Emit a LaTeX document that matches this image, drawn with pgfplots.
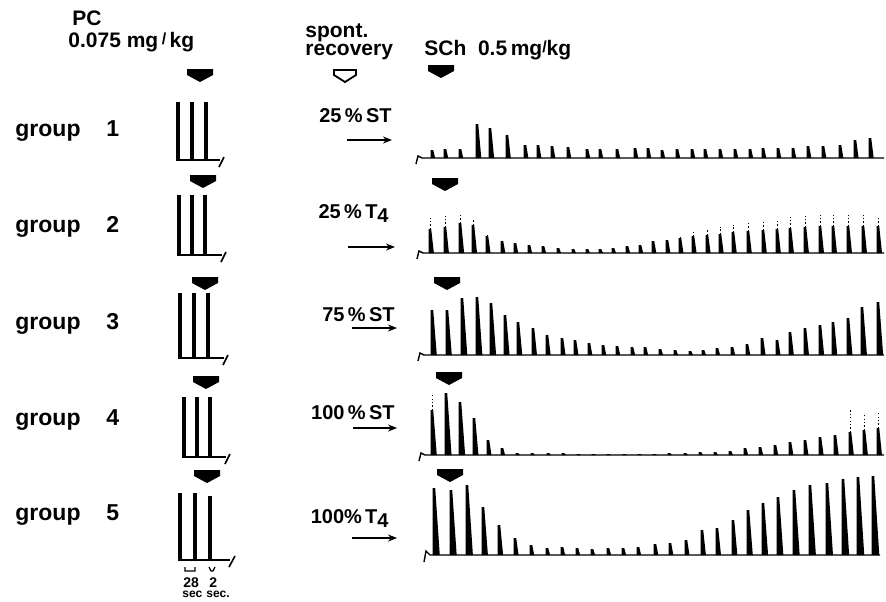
\documentclass[border=0pt]{standalone}
\usepackage{pgfplots}
\usepackage{pgfplotstable}
\pgfplotsset{compat=1.18}
\usepackage{fontspec}
\setmainfont{Liberation Sans}
\usetikzlibrary{arrows.meta}

% one twitch: steep rise, tail decaying to the right (1 data unit = 0.5pt)
\pgfdeclareplotmark{twitch}{%
  \pgfpathmoveto{\pgfpoint{-0.7pt}{0pt}}%
  \pgfpathlineto{\pgfpoint{-0.7pt}{0.5pt*\hv}}%
  \pgfpathlineto{\pgfpoint{0.6pt}{0.5pt*\hv}}%
  \pgfpathlineto{\pgfpoint{1.4pt+0.022pt*\hv}{0pt}}%
  \pgfpathclose\pgfusepathqfill}
% same, with a faint dotted fast peak above
\pgfdeclareplotmark{twitchd}{%
  \pgfuseplotmark{twitch}%
  \begin{pgfscope}%
  \pgfsetlinewidth{0.5pt}\pgfsetdash{{0.6pt}{1.1pt}}{0pt}%
  \pgfpathmoveto{\pgfpoint{0pt}{0.5pt*\hv}}%
  \pgfpathlineto{\pgfpoint{0pt}{0.5pt*\tv}}%
  \pgfusepathqstroke
  \end{pgfscope}}
% control twitches on the slow time base
\pgfdeclareplotmark{lbar}{%
  \pgfpathrectangle{\pgfpoint{-1pt}{0pt}}{\pgfpoint{2pt}{0.5pt*\hv}}\pgfusepathqfill}

\pgfplotsset{
  tw/.style={scatter, only marks, mark=twitch,
    scatter/use mapped color={draw=black, fill=black},
    visualization depends on={\thisrow{h}\as\hv}},
  twd/.style={tw, mark=twitchd,
    visualization depends on={\thisrow{t}\as\tv}},
  lb/.style={tw, mark=lbar},
  base/.style={black, line width=0.7pt},
}

% SCh responses, x = position, h = height of twitch (t = faint peak)
\pgfplotstableread[row sep=\\]{
x h\\ 432 8\\ 445 9\\ 460 9\\ 477 34\\ 490 30\\ 507 23\\ 525 13\\ 538 13\\
552 12\\ 568 11\\ 587 9\\ 600 9\\ 617 9\\ 635 10\\ 648 10\\ 662 8\\ 677 9\\
692 9\\ 705 9\\ 720 9\\ 735 9\\ 750 9\\ 763 10\\ 778 10\\ 793 10\\ 808 12\\
823 12\\ 840 13\\ 855 18\\ 870 20\\
}\gone
\pgfplotstableread[row sep=\\]{
x h t\\ 430 24 35\\ 445 26 37\\ 460 30 40\\ 473 28 33\\ 487 17 20\\ 502 12 12\\
515 10 10\\ 529 8 8\\ 543 7 7\\ 558 5 5\\ 573 4 4\\ 587 4 4\\ 600 4 4\\ 613 5 5\\
627 7 7\\ 640 8 8\\ 653 12 12\\ 667 13 13\\ 680 15 18\\ 693 17 21\\ 707 18 23\\
720 19 26\\ 733 21 28\\ 748 22 30\\ 763 23 33\\ 777 24 34\\ 790 25 37\\ 805 26 38\\
820 27 39\\ 833 27 40\\ 848 27 40\\ 863 27 38\\ 878 27 36\\
}\gtwo
\pgfplotstableread[row sep=\\]{
x h\\ 432 45\\ 447 45\\ 462 57\\ 477 58\\ 491 52\\ 505 40\\ 518 33\\ 533 27\\
547 20\\ 562 17\\ 575 15\\ 589 12\\ 603 10\\ 617 9\\ 632 8\\ 645 8\\ 660 6\\
675 5\\ 690 4\\ 703 5\\ 717 7\\ 732 8\\ 747 11\\ 762 17\\ 777 15\\ 790 23\\
805 27\\ 820 30\\ 833 33\\ 848 37\\ 862 48\\ 878 53\\
}\gthree
\pgfplotstableread[row sep=\\]{
x h t\\ 432 45 62\\ 446 62 62\\ 460 53 53\\ 474 37 37\\ 488 15 15\\ 502 7 7\\
517 2 2\\ 532 2 2\\ 548 2 2\\ 563 2 2\\ 578 1 1\\ 593 1 1\\ 608 1 1\\ 624 1 1\\
639 1 1\\ 654 1 1\\ 669 2 2\\ 685 2 2\\ 700 3 3\\ 715 3 3\\ 730 4 4\\ 745 7 7\\
760 8 8\\ 775 10 10\\ 790 13 13\\ 805 15 15\\ 820 18 18\\ 835 20 20\\
850 23 45\\ 864 25 42\\ 878 27 42\\
}\gfour
\pgfplotstableread[row sep=\\]{
x h\\ 434 67\\ 451 65\\ 467 70\\ 483 48\\ 499 30\\ 515 17\\ 531 10\\ 547 7\\
562 8\\ 577 7\\ 592 6\\ 608 7\\ 623 7\\ 638 8\\ 655 11\\ 670 12\\ 686 15\\
702 25\\ 717 27\\ 733 35\\ 748 45\\ 763 52\\ 778 58\\ 794 65\\ 810 70\\
827 72\\ 843 76\\ 858 78\\ 873 79\\
}\gfive
% control responses (left)
\pgfplotstableread[row sep=\\]{x h\\ 178 58\\ 192 58\\ 206 58\\}\lone
\pgfplotstableread[row sep=\\]{x h\\ 179 60\\ 192 60\\ 205 60\\}\ltwo
\pgfplotstableread[row sep=\\]{x h\\ 180 65\\ 194 65\\ 208 65\\}\lthree
\pgfplotstableread[row sep=\\]{x h\\ 184 60\\ 197 60\\ 210 60\\}\lfour
\pgfplotstableread[row sep=\\]{x h\\ 180 67\\ 195 67\\ 210 64\\}\lfive

\newcommand\darr[2]{\fill[shift={(axis cs:#1,#2)}] (-6.5pt,0pt) -- (6.5pt,0pt) -- (6.5pt,-3pt) -- (0pt,-6.5pt) -- (-6.5pt,-3pt) -- cycle;}
\newcommand\grp[2]{%
  \node[anchor=base west, font=\fontsize{11.5}{13}\bfseries, inner sep=0pt] at (axis cs:15,#1) {group};
  \node[anchor=base west, font=\fontsize{11.5}{13}\bfseries, inner sep=0pt] at (axis cs:106,#1) {#2};}
\newcommand\lvl[3]{%
  \node[anchor=base east, font=\fontsize{10}{12}\bfseries, inner sep=0pt] at (axis cs:#1,#2) {#3};}
\newcommand\rarr[3]{\draw[-{Stealth[length=4.5pt,width=3.5pt]}, line width=0.8pt] (axis cs:#1,#3) -- (axis cs:#2,#3);}
\newcommand\perslash{{\fontsize{8}{9}\selectfont\raisebox{0.35ex}{/}}}

\begin{document}
\begin{tikzpicture}
\begin{axis}[
    scale only axis, width=443pt, height=300.5pt,
    xmin=0, xmax=886, ymin=0, ymax=601, y dir=reverse,
    hide axis, clip=false, enlargelimits=false,
]
\path (axis cs:0,0) rectangle (axis cs:886,601);

% control twitches (left)
\addplot[lb] table[x=x, y expr=160] {\lone};
\addplot[lb] table[x=x, y expr=255] {\ltwo};
\addplot[lb] table[x=x, y expr=358] {\lthree};
\addplot[lb] table[x=x, y expr=457] {\lfour};
\addplot[lb] table[x=x, y expr=560] {\lfive};
\addplot[base] coordinates {(176,160) (220,160)};
\addplot[base] coordinates {(177,255) (222,255)};
\addplot[base] coordinates {(178,358) (224,358)};
\addplot[base] coordinates {(182,457) (226,457)};
\addplot[base] coordinates {(178,560) (230,560)};

% SCh responses (right)
\addplot[base] coordinates {(416,164) (418,156) (422,158) (884,158)};
\addplot[base] coordinates {(417,259) (419,251) (423,253) (884,253)};
\addplot[base] coordinates {(418,361) (420,353) (424,355) (884,355)};
\addplot[base] coordinates {(419,461) (421,453) (425,455) (884,455)};
\addplot[base] coordinates {(424,562) (426,551) (430,555) (880,555)};
\addplot[tw]  table[x=x, y expr=158] {\gone};
\addplot[twd] table[x=x, y expr=253] {\gtwo};
\addplot[tw]  table[x=x, y expr=355] {\gthree};
\addplot[twd] table[x=x, y expr=455] {\gfour};
\addplot[tw]  table[x=x, y expr=555] {\gfive};

% end ticks of the slow traces
\draw[line width=0.8pt]
  (axis cs:219,167) -- (axis cs:224,157)
  (axis cs:221,262) -- (axis cs:226,252)
  (axis cs:223,365) -- (axis cs:228,355)
  (axis cs:225,464) -- (axis cs:230,454)
  (axis cs:229,567) -- (axis cs:235,556);

% headings
\node[anchor=base west, font=\fontsize{10.5}{12}\bfseries, inner sep=0pt] at (axis cs:72,25) {PC};
\node[anchor=base west, font=\fontsize{10.5}{12}\bfseries, inner sep=0pt] at (axis cs:68,47) {0.075 mg\,\perslash\,kg};
\node[anchor=base west, font=\fontsize{10.5}{12}\bfseries, inner sep=0pt] at (axis cs:305,37) {spont.};
\node[anchor=base west, font=\fontsize{10.5}{12}\bfseries, inner sep=0pt] at (axis cs:305,55) {recovery};
\node[anchor=base west, font=\fontsize{10.5}{12}\bfseries, inner sep=0pt] at (axis cs:424,55) {SCh\ \ 0.5\,mg\perslash kg};

% drug arrows
\darr{200}{69}
\darr{441}{65}
\draw[line width=0.9pt, shift={(axis cs:345,70)}] (-5.5pt,0pt) -- (5.5pt,0pt) -- (5.5pt,-2.5pt) -- (0pt,-6pt) -- (-5.5pt,-2.5pt) -- cycle;
\darr{203}{175} \darr{205}{277} \darr{206}{376} \darr{207}{470}
\darr{445}{178} \darr{447}{277} \darr{449}{372} \darr{450}{469}

% group labels
\grp{136}{1} \grp{232}{2} \grp{329}{3} \grp{425}{4} \grp{520}{5}

% recovery levels
\lvl{392}{122}{25\,\%\,ST}
\lvl{389}{218}{25\,\%\,T\raisebox{-0.45ex}{4}}
\lvl{395}{321}{75\,\%\,ST}
\lvl{395}{419}{100\,\%\,ST}
\lvl{389}{523}{100\%\,T\raisebox{-0.45ex}{4}}
\rarr{347}{392}{140} \rarr{348}{395}{247} \rarr{352}{397}{328}
\rarr{353}{397}{428} \rarr{352}{397}{538}

% time scale under group 5
\draw[line width=0.6pt] (axis cs:185,567) -- (axis cs:185,571) -- (axis cs:195,571) -- (axis cs:195,567)
  (axis cs:209,567) -- (axis cs:211,571) -- (axis cs:213,571) -- (axis cs:215,567);
\node[anchor=base west, font=\fontsize{7}{8}\bfseries, inner sep=0pt] at (axis cs:183,587) {28};
\node[anchor=base west, font=\fontsize{7}{8}\bfseries, inner sep=0pt] at (axis cs:209,587) {2};
\node[anchor=base west, font=\fontsize{6}{7}\bfseries, inner sep=0pt] at (axis cs:182,597) {sec};
\node[anchor=base west, font=\fontsize{6}{7}\bfseries, inner sep=0pt] at (axis cs:206,597) {sec.};
\end{axis}
\end{tikzpicture}
\end{document}
